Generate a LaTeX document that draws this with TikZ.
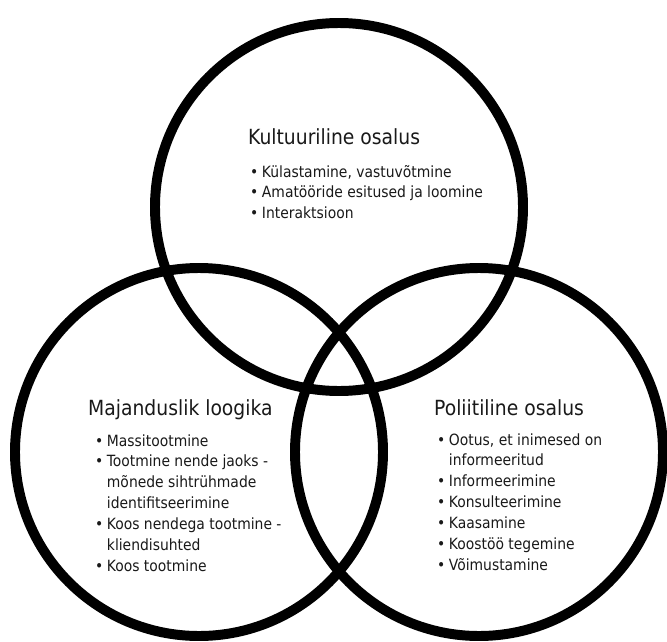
\documentclass[tikz,border=0pt]{standalone}
\usepackage{fontspec}
\setmainfont{DejaVu Sans Condensed}
\usetikzlibrary{positioning}
\definecolor{ringblack}{RGB}{0, 0, 0}
\definecolor{textdark}{RGB}{25, 25, 25}

\newcommand{\bul}{\textbullet}
\newcommand{\blist}[1]{\begin{tabular}[t]{@{}p{10pt}@{}l@{}}#1\end{tabular}}

\tikzset{
  ring/.style={draw=ringblack, line width=8.5pt},
  ringtitle/.style={anchor=base west, inner sep=0pt, text=textdark, font=\fontsize{17.8}{20}\selectfont},
  ringlist/.style={anchor=base west, inner sep=0pt, text=textdark, font=\fontsize{13.2}{17.9}\selectfont}
}

\begin{document}
\begin{tikzpicture}[x=0.03cm, y=-0.03cm]
  \useasboundingbox (0,0) rectangle (667,642);

  % three rings
  \coordinate (kult) at (339,207);
  \coordinate (maj) at (199,452);
  \coordinate (pol) at (479,452);
  \foreach \c in {kult, maj, pol} {
    \draw[ring] (\c) circle (184);
  }

  % top ring
  \node[ringtitle] (kulttitle) at (248,144) {Kultuuriline osalus};
  \node[ringlist] (kultlist) at (250,177) {\blist{
    \bul & Külastamine, vastuvõtmine\\
    \bul & Amatööride esitused ja loomine\\
    \bul & Interaktsioon}};

  % bottom left ring
  \node[ringtitle] (majtitle) at (88,415) {Majanduslik loogika};
  \node[ringlist] (majlist) at (95,446) {\blist{
    \bul & Massitootmine\\
    \bul & Tootmine nende jaoks -\\
         & mõnede sihtrühmade\\
         & identifitseerimine\\
    \bul & Koos nendega tootmine -\\
         & kliendisuhted\\
    \bul & Koos tootmine}};

  % bottom right ring
  \node[ringtitle] (poltitle) at (434,415) {Poliitiline osalus};
  \node[ringlist] (pollist) at (437,445) {\blist{
    \bul & Ootus, et inimesed on\\
         & informeeritud\\
    \bul & Informeerimine\\
    \bul & Konsulteerimine\\
    \bul & Kaasamine\\
    \bul & Koostöö tegemine\\
    \bul & Võimustamine}};
\end{tikzpicture}
\end{document}
